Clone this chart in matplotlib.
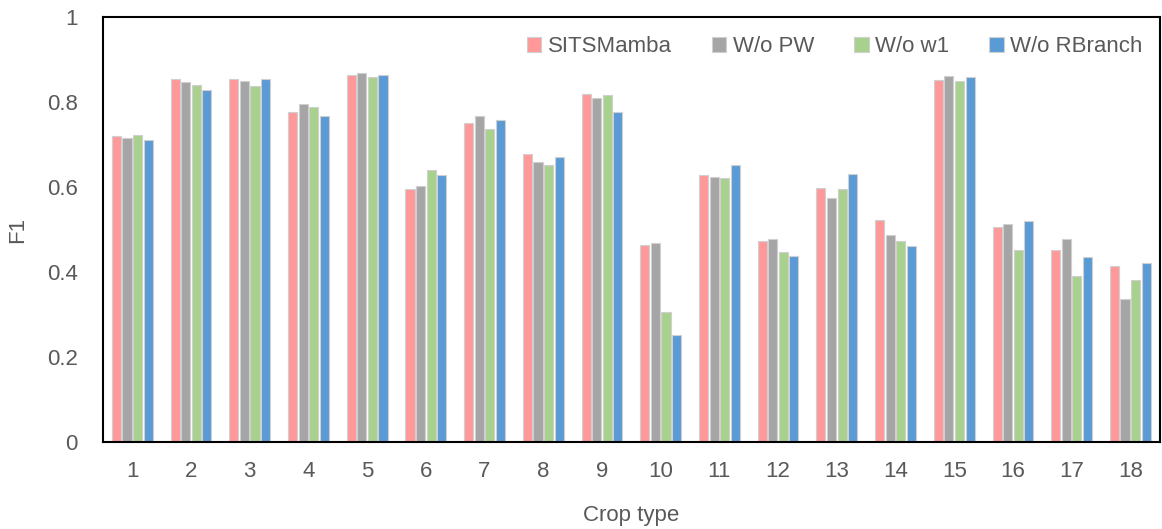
import matplotlib.pyplot as plt
import numpy as np

plt.rcParams['font.family'] = ['Liberation Sans', 'DejaVu Sans']

crop_types = [str(i) for i in range(1, 19)]
series_names = ['SITSMamba', 'W/o PW', 'W/o w1', 'W/o RBranch']
colors = ['#FF9999', '#A5A5A5', '#A9D18E', '#5B9BD5']

sitsmamba = [0.719, 0.854, 0.854, 0.776, 0.864, 0.595, 0.750, 0.677, 0.819,
             0.464, 0.628, 0.472, 0.598, 0.522, 0.851, 0.505, 0.451, 0.414]
wo_pw = [0.716, 0.846, 0.849, 0.795, 0.867, 0.602, 0.766, 0.659, 0.809,
         0.468, 0.623, 0.478, 0.574, 0.487, 0.861, 0.514, 0.478, 0.336]
wo_w1 = [0.722, 0.840, 0.837, 0.788, 0.859, 0.640, 0.736, 0.652, 0.816,
         0.305, 0.620, 0.446, 0.595, 0.472, 0.849, 0.451, 0.390, 0.381]
wo_rbranch = [0.710, 0.827, 0.854, 0.767, 0.864, 0.628, 0.758, 0.671, 0.776,
              0.252, 0.652, 0.438, 0.631, 0.460, 0.858, 0.520, 0.435, 0.421]

all_series = [sitsmamba, wo_pw, wo_w1, wo_rbranch]

fig = plt.figure(figsize=(11.62, 5.29), dpi=100)
ax = fig.add_axes([0.0886, 0.1645, 0.9094, 0.8035])

x = np.arange(len(crop_types))
step = 0.18
width = 0.155
for i, (vals, name, c) in enumerate(zip(all_series, series_names, colors)):
    ax.bar(x + (i - 1.5) * step, vals, width, color=c, label=name,
           edgecolor='#d0d0d0', linewidth=0.8)

ax.set_xlim(-0.5, len(crop_types) - 0.5)
ax.set_ylim(0, 1)
ax.set_xticks(x)
ax.set_xticklabels(crop_types)
ax.set_yticks([0, 0.2, 0.4, 0.6, 0.8, 1])
ax.set_yticklabels(['0', '0.2', '0.4', '0.6', '0.8', '1'])
ax.tick_params(axis='y', length=0, labelsize=16, colors='#595959', pad=18)
ax.tick_params(axis='x', length=0, labelsize=16, colors='#595959', pad=14)

for s in ax.spines.values():
    s.set_color('black')
    s.set_linewidth(1.5)

ax.set_ylabel('F1', fontsize=16, color='#595959', labelpad=14)
ax.set_xlabel('Crop type', fontsize=16, color='#595959', labelpad=16)

ax.legend(loc='upper right', ncol=4, frameon=False, fontsize=16,
          labelcolor='#595959', handlelength=0.65, handleheight=0.65,
          handletextpad=0.3, columnspacing=1.8, bbox_to_anchor=(1.003, 1.0015))

fig.savefig('out.png', dpi=100)
